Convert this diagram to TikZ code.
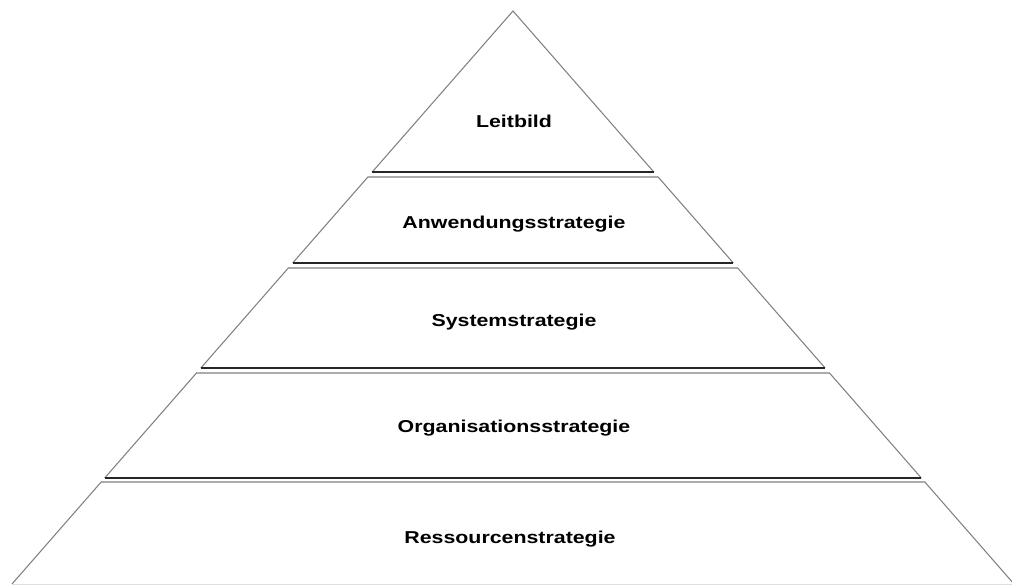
\documentclass[tikz,border=0pt]{standalone}
\usepackage{fontspec}
\newfontfamily\pyrfont[FakeStretch=1.24]{Liberation Sans}
\usetikzlibrary{calc}
\tikzset{
  couche/.style={draw=gray, line width=0.6pt},
  base/.style={draw=black!85, line width=0.6pt},
  etiquette/.style={anchor=base, font=\pyrfont\bfseries\fontsize{9.8}{12}\selectfont}
}

\begin{document}
\begin{tikzpicture}[x=0.02cm, y=-0.02cm]
  \useasboundingbox (0,0) rectangle (1012,586);
  \clip (0,0) rectangle (1012,586);
      \coordinate (T) at (513,11);
      \coordinate (L) at (12,584);
      \coordinate (R) at (1014,584);

      % COUCHES DE LA PYRAMIDE
      \foreach \ya/\yb/\n in {11/172/1, 177/263/2, 268/368/3, 373/478/4, 482/584/5}{
        \pgfmathsetmacro\ta{(\ya-11)/573}
        \pgfmathsetmacro\tb{(\yb-11)/573}
        \coordinate (A\n) at ($ (T)!\ta!(L) $);
        \coordinate (B\n) at ($ (T)!\ta!(R) $);
        \coordinate (C\n) at ($ (T)!\tb!(R) $);
        \coordinate (D\n) at ($ (T)!\tb!(L) $);
        \draw[couche](D\n)--(A\n)--(B\n)--(C\n);
      }

      % LIGNES DE BASE
      \draw[base](D1)--(C1);
      \draw[base](D2)--(C2);
      \draw[base](D3)--(C3);
      \draw[base](D4)--(C4);
      \draw[gray!25](D5)--(C5);

      % TEXTES
      \node[etiquette] (leitbild) at (514,127) {Leitbild};
      \node[etiquette] (anwendung) at (514,228) {Anwendungsstrategie};
      \node[etiquette] (system) at (514,326) {Systemstrategie};
      \node[etiquette] (organisation) at (514,432) {Organisationsstrategie};
      \node[etiquette] (ressourcen) at (510,543) {Ressourcenstrategie};
\end{tikzpicture}
\end{document}
